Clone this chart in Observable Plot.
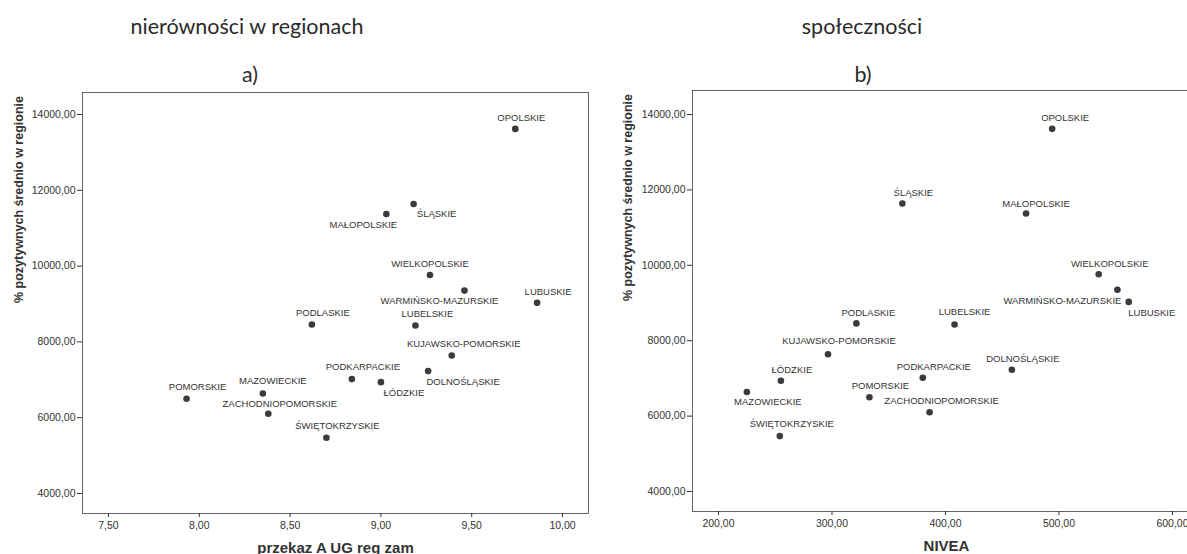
<!DOCTYPE html>
<html>
<head>
<meta charset="utf-8">
<script src="https://cdn.jsdelivr.net/npm/d3@7"></script>
<script src="https://cdn.jsdelivr.net/npm/@observablehq/plot@0.6"></script>
<style>
  html, body { margin: 0; padding: 0; background: #fff; overflow: hidden; }
  #root { position: relative; width: 1187px; height: 554px; overflow: hidden; }
  .title { position: absolute; width: 300px; text-align: center; font-family: Lato, "Open Sans", sans-serif; font-size: 21.5px; line-height: 1; color: #2a2a2a; }
  .chart { position: absolute; top: 80px; height: 474px; }
  .chart svg { max-width: none !important; }
</style>
</head>
<body>
<div id="root">
  <div class="title" style="left:97px;top:16px">nierówności w regionach</div>
  <div class="title" style="left:100px;top:64px">a)</div>
  <div class="title" style="left:712px;top:16px">społeczności</div>
  <div class="title" style="left:713px;top:64px">b)</div>
  <div id="a" class="chart" style="left:0px;width:595px"></div>
  <div id="b" class="chart" style="left:600px;width:600px"></div>
</div>
<script>
// ---- data ----
const regions = ["OPOLSKIE","ŚLĄSKIE","MAŁOPOLSKIE","WIELKOPOLSKIE","WARMIŃSKO-MAZURSKIE","LUBUSKIE","PODLASKIE","LUBELSKIE","KUJAWSKO-POMORSKIE","PODKARPACKIE","DOLNOŚLĄSKIE","ŁÓDZKIE","ŚWIĘTOKRZYSKIE","POMORSKIE","MAZOWIECKIE","ZACHODNIOPOMORSKIE"];
const pozytywnych = [13620, 11640, 11375, 9765, 9353, 9030, 8460, 8432, 7641, 7018, 7229, 6938, 5470, 6500, 6640, 6102];
const przekaz = [9.74, 9.18, 9.03, 9.27, 9.46, 9.86, 8.62, 9.19, 9.39, 8.84, 9.26, 9.00, 8.70, 7.93, 8.35, 8.38];
const nivea = [494, 362, 471, 535, 551.5, 561.5, 321.5, 408, 296.5, 380, 458.5, 255, 254, 333, 225, 386];

const yTicks = [4000, 6000, 8000, 10000, 12000, 14000];
const xTicksA = [7.5, 8.0, 8.5, 9.0, 9.5, 10.0];
const xTicksB = [200, 300, 400, 500, 600];

const yLabel = "% pozytywnych średnio w regionie";
const xLabelA = "przekaz A UG reg zam";
const xLabelB = "NIVEA";

// ---- label placement (style) ----
const placeA = {
  "OPOLSKIE": [6, -11], "ŚLĄSKIE": [23, 10], "MAŁOPOLSKIE": [-23, 11], "WIELKOPOLSKIE": [0, -11],
  "WARMIŃSKO-MAZURSKIE": [-25, 10], "LUBUSKIE": [11, -11], "PODLASKIE": [11, -11], "LUBELSKIE": [12, -12],
  "KUJAWSKO-POMORSKIE": [12, -12], "PODKARPACKIE": [11, -12], "DOLNOŚLĄSKIE": [35, 11], "ŁÓDZKIE": [23, 11],
  "ŚWIĘTOKRZYSKIE": [11, -12], "POMORSKIE": [11, -12], "MAZOWIECKIE": [10, -12], "ZACHODNIOPOMORSKIE": [11.5, -10]
};
const placeB = {
  "OPOLSKIE": [13, -11], "ŚLĄSKIE": [11, -11], "MAŁOPOLSKIE": [10, -10], "WIELKOPOLSKIE": [11, -10],
  "WARMIŃSKO-MAZURSKIE": [-55, 11], "LUBUSKIE": [23, 11], "PODLASKIE": [12, -10], "LUBELSKIE": [10, -12],
  "KUJAWSKO-POMORSKIE": [11, -13], "PODKARPACKIE": [11, -11], "DOLNOŚLĄSKIE": [11, -11], "ŁÓDZKIE": [11, -11],
  "ŚWIĘTOKRZYSKIE": [12, -12], "POMORSKIE": [11, -11], "MAZOWIECKIE": [21, 10], "ZACHODNIOPOMORSKIE": [12, -11]
};

const fmt = d => d3.format(".2f")(d).replace(".", ",");
const ink = "#333";
const font = "'Liberation Sans', Arimo, Arial, sans-serif";

function chart(xs, xDomain, xTicks, xLabel, place, opts) {
  const rows = regions.map((r, i) => ({region: r, x: xs[i], y: pozytywnych[i]}));
  return Plot.plot({
    width: opts.width, height: 474,
    marginLeft: opts.ml, marginRight: opts.mr, marginTop: opts.mt, marginBottom: opts.mb,
    style: {fontFamily: font, fontSize: "10.5px", color: ink, background: "transparent", overflow: "visible", maxWidth: "none"},
    x: {domain: xDomain},
    y: {domain: opts.yDomain},
    marks: [
      Plot.frame({stroke: "#555", strokeWidth: 0.9}),
      Plot.axisY(yTicks, {tickFormat: fmt, tickSize: 5, tickPadding: 2, label: null, stroke: "#333", fill: ink}),
      Plot.axisX(xTicks, {tickFormat: fmt, tickSize: 4, tickPadding: 4, label: null, stroke: "#333", fill: ink}),
      Plot.dot(rows, {x: "x", y: "y", r: 3.3, fill: "#3b3b3b", stroke: "none"}),
      ...rows.map(d => Plot.text([d], {
        x: "x", y: "y", text: "region", dx: place[d.region][0], dy: place[d.region][1],
        fontSize: 9.5, fill: ink, fontFamily: font
      })),
      Plot.text([yLabel], {frameAnchor: "left", dx: opts.yLabelDx, rotate: -90, text: d => d,
        fontWeight: "bold", fontSize: 12.5, fill: ink, fontFamily: font}),
      Plot.text([xLabel], {frameAnchor: "bottom", dy: 39, text: d => d,
        fontWeight: "bold", fontSize: 15, fill: ink, fontFamily: font, letterSpacing: "1px"})
    ]
  });
}

document.getElementById("a").append(chart(przekaz, [7.357, 10.143], xTicksA, xLabelA, placeA,
  {width: 595, ml: 82, mr: 7, mt: 12, mb: 41, yDomain: [3472, 14580], yLabelDx: -64}));
document.getElementById("b").append(chart(nivea, [177.1, 624.7], xTicksB, xLabelB, placeB,
  {width: 600, ml: 92, mr: 0, mt: 10, mb: 43, yDomain: [3470, 14637], yLabelDx: -65}));
</script>
</body>
</html>
